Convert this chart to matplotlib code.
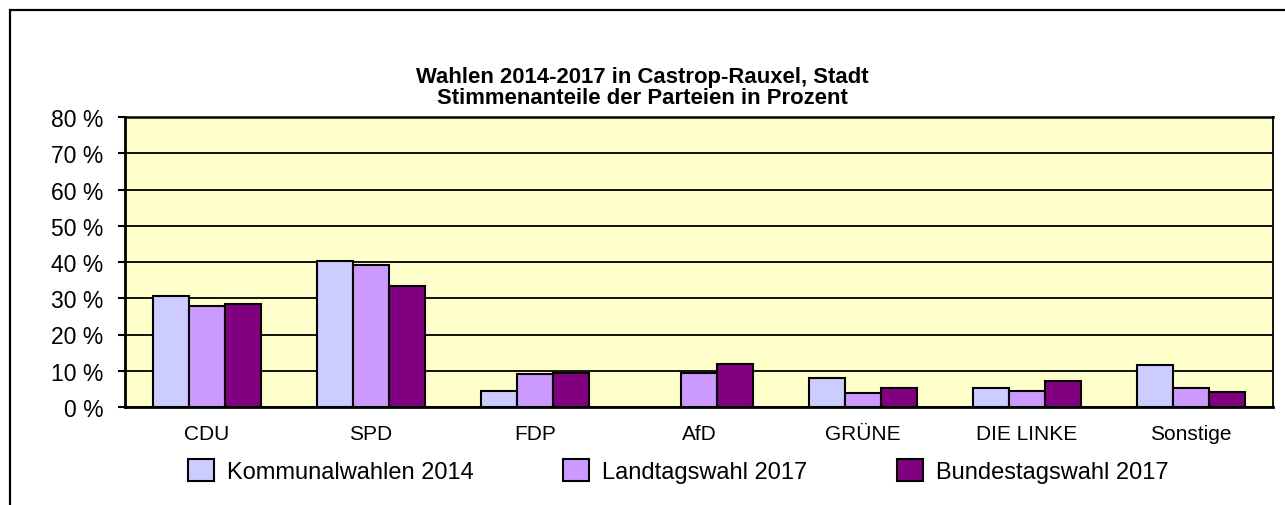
import numpy as np
import matplotlib
matplotlib.use('Agg')
import matplotlib.pyplot as plt
from matplotlib.patches import Rectangle

plt.rcParams['font.family'] = ['Liberation Sans', 'DejaVu Sans']

# Data
parties = ['CDU', 'SPD', 'FDP', 'AfD', 'GRÜNE', 'DIE LINKE', 'Sonstige']
series_names = ['Kommunalwahlen 2014', 'Landtagswahl 2017', 'Bundestagswahl 2017']
kommunal_2014 = [30.5, 40.2, 4.3, np.nan, 8.1, 5.3, 11.6]
landtag_2017 = [27.8, 39.3, 9.0, 9.4, 3.9, 4.4, 5.2]
bundestag_2017 = [28.4, 33.5, 9.3, 11.9, 5.2, 7.1, 4.2]
y_ticks = [0, 10, 20, 30, 40, 50, 60, 70, 80]
y_tick_labels = ['0 %', '10 %', '20 %', '30 %', '40 %', '50 %', '60 %', '70 %', '80 %']

colors = ['#CCCCFF', '#CC99FF', '#800080']

W, H = 1285, 506
fig = plt.figure(figsize=(W / 100, H / 100), dpi=100)

# outer frame (runs off the right and bottom edge)
fig.patches.append(Rectangle((10 / W, -0.1), 1.2, 1 - 11 / H + 0.1,
                             transform=fig.transFigure, fill=False,
                             ec='black', lw=1.6, zorder=0))

ax = fig.add_axes([125 / W, 1 - 408 / H, (1273 - 125) / W, (408 - 118) / H])
ax.set_facecolor('#FFFFCC')

x = np.arange(len(parties))
bw = 0.22
all_series = [kommunal_2014, landtag_2017, bundestag_2017]
handles = []
for i, (vals, c) in enumerate(zip(all_series, colors)):
    b = ax.bar(x + (i - 1) * bw, vals, bw, color=c, edgecolor='black',
               linewidth=1.5, zorder=3, label=series_names[i])
    handles.append(b)

ax.set_xlim(-0.5, len(parties) - 0.5)
ax.set_ylim(0, 80)
ax.set_yticks(y_ticks)
ax.set_yticklabels(y_tick_labels, fontsize=16.5)
ax.set_xticks(x)
ax.set_xticklabels(parties, fontsize=15)
ax.tick_params(axis='x', length=0, pad=12)
ax.tick_params(axis='y', length=5, width=1.5, pad=10.5)
ax.yaxis.grid(True, color='black', lw=1.3, zorder=1)
ax.set_axisbelow(True)
for s in ax.spines.values():
    s.set_color('black')
    s.set_linewidth(1.3)
ax.spines['left'].set_linewidth(2)
ax.spines['bottom'].set_linewidth(2)
ax.spines['top'].set_linewidth(1.8)

fig.text(0.5, 1 - 77 / H, 'Wahlen 2014-2017 in Castrop-Rauxel, Stadt',
         ha='center', va='center', fontsize=15.9, fontweight='bold')
fig.text(0.5, 1 - 99 / H, 'Stimmenanteile der Parteien in Prozent',
         ha='center', va='center', fontsize=15.9, fontweight='bold')

fig.legend(handles=handles, labels=series_names, loc='center left',
           bbox_to_anchor=(188 / W, 1 - 472 / H), ncol=3, frameon=False,
           fontsize=17, handlelength=1.1, handleheight=1.05,
           handletextpad=0.55, columnspacing=3.8, borderaxespad=0,
           borderpad=0)

fig.savefig('out.png', dpi=100)
